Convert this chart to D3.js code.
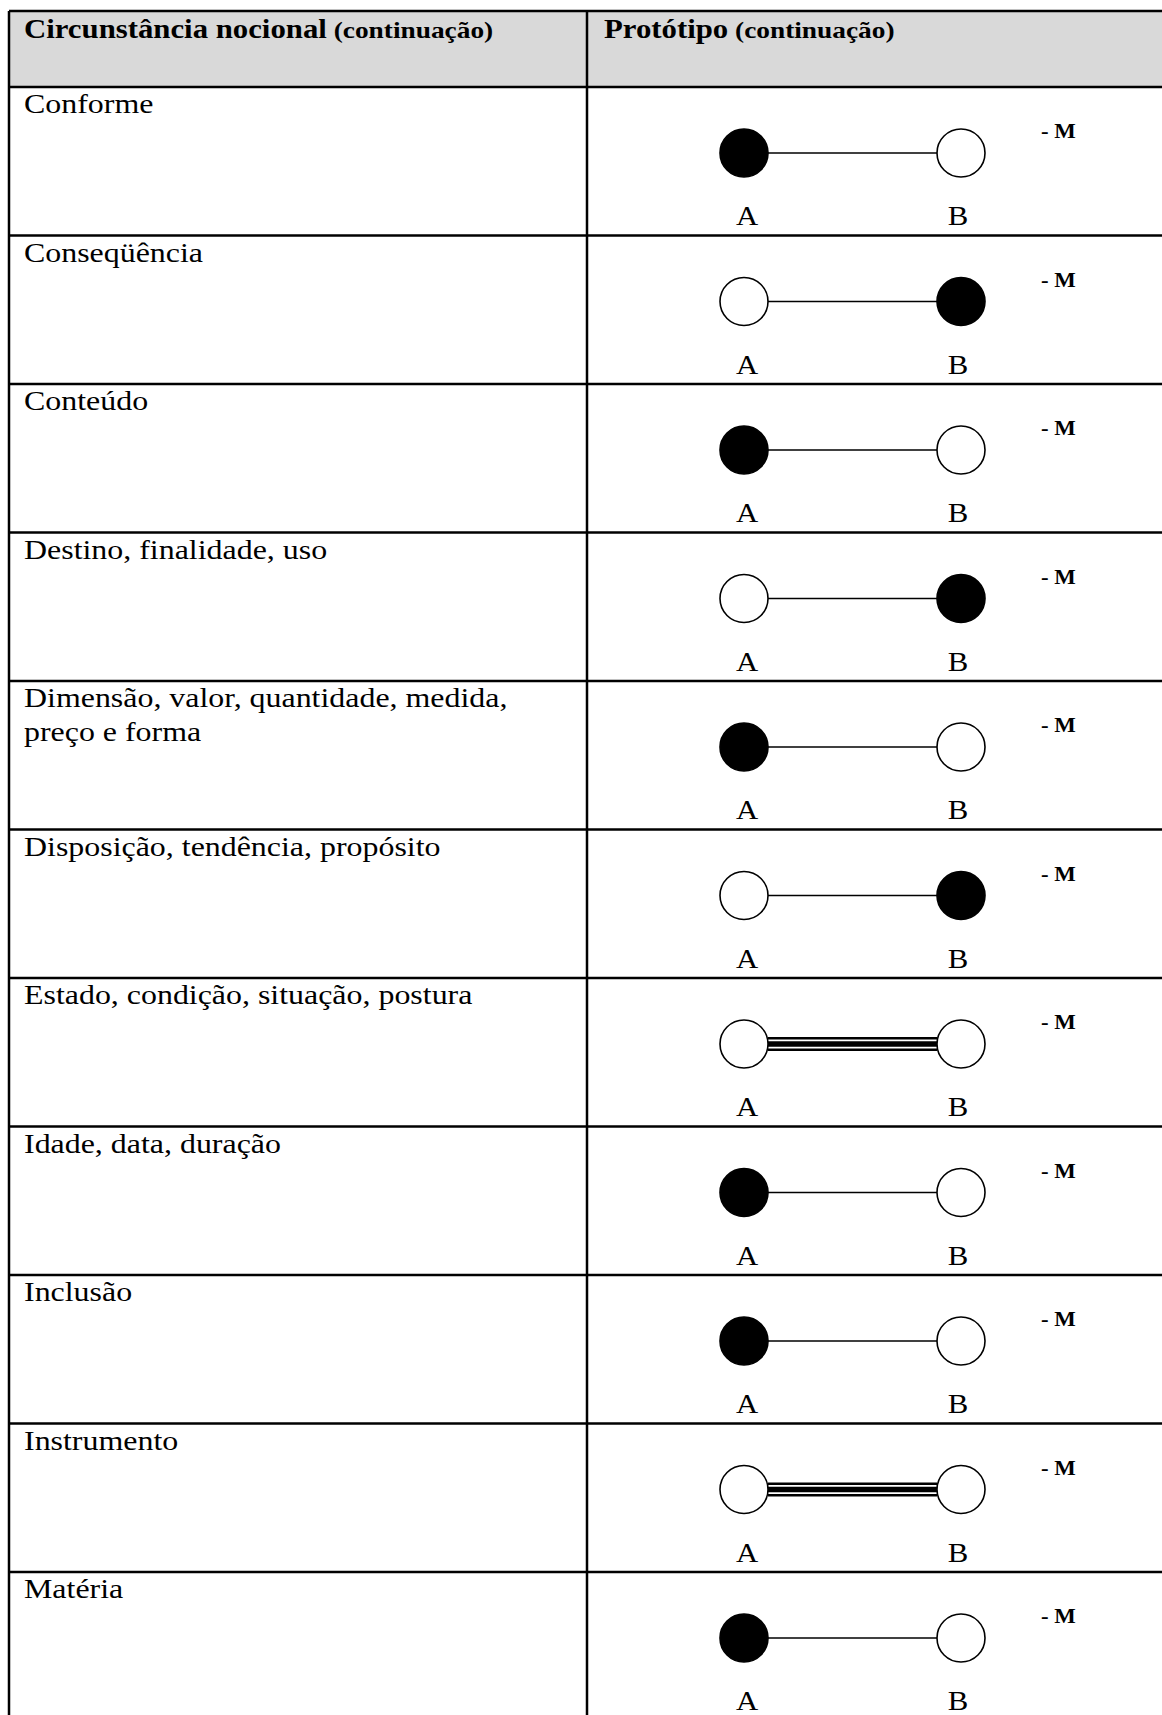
<!DOCTYPE html>
<html>
<head>
<meta charset="utf-8">
<script src="https://cdn.jsdelivr.net/npm/d3@7"></script>
<style>
  html, body { margin: 0; padding: 0; background: #fff; }
  svg { display: block; }
  text { font-family: "Liberation Serif", "Times New Roman", serif; fill: #000; }
</style>
</head>
<body>
<svg id="chart"></svg>
<script>
// table content
const headerLeft = ['Circunstância nocional', ' (continuação)']
const headerRight = ['Protótipo', ' (continuação)']
const categories = [
    ['Conforme'],
    ['Conseqüência'],
    ['Conteúdo'],
    ['Destino, finalidade, uso'],
    ['Dimensão, valor, quantidade, medida,', 'preço e forma'],
    ['Disposição, tendência, propósito'],
    ['Estado, condição, situação, postura'],
    ['Idade, data, duração'],
    ['Inclusão'],
    ['Instrumento'],
    ['Matéria']
]
// which node is filled (null = none)
const filledNode = ['A', 'B', 'A', 'B', 'A', 'B', null, 'A', 'A', null, 'A']
// link drawn between the nodes
const linkType = ['single', 'single', 'single', 'single', 'single', 'single',
                  'triple', 'single', 'single', 'triple', 'single']
const nodes = ['A', 'B']
const marker = '- M'

const W = 1162, H = 1715
const tableLeft = 9, divider = 587, tableTop = 11, headH = 76, rowH = 148.5
const R = 24
const stretch = 1.14  // the source font is set a bit wider than Times

const svg = d3.select('#chart').attr('width', W).attr('height', H)

const y = d3.scaleBand()
    .domain(d3.range(categories.length))
    .range([tableTop + headH, tableTop + headH + rowH * categories.length])
    .padding(0)

const x = d3.scalePoint().domain(nodes).range([744, 961])

// text placed at (tx, ty), widened horizontally
function wideText(sel, tx, ty) {
    return sel.append('text')
        .attr('transform', `translate(${tx},${ty}) scale(${stretch},1)`)
}

// header
svg.append('rect')
    .attr('x', tableLeft).attr('y', tableTop)
    .attr('width', W - tableLeft).attr('height', headH)
    .attr('fill', '#d9d9d9')

function headerText(parts, x0) {
    let t = wideText(svg, x0, tableTop + 27).attr('font-weight', 'bold')
    t.append('tspan').attr('font-size', 27).text(parts[0])
    t.append('tspan').attr('font-size', 24).text(parts[1])
}
headerText(headerLeft, 24)
headerText(headerRight, 604)

// rows
let rows = svg.append('g').selectAll('g')
    .data(categories.map((c, i) => ({ lines: c, filled: filledNode[i], link: linkType[i], i })))
    .join('g')
    .attr('transform', d => `translate(0,${y(d.i)})`)

wideText(rows, 24, 26)
    .attr('font-size', 28)
    .selectAll('tspan')
    .data(d => d.lines)
    .join('tspan')
    .attr('x', 0)
    .attr('dy', (d, j) => j ? 34 : 0)
    .text(d => d)

const cy = 66

// links
rows.each(function (d) {
    let g = d3.select(this)
    let x1 = x('A') + R, x2 = x('B') - R
    if (d.link === 'triple') {
        [[-5.8, 2.5], [0, 5.5], [5.8, 2.5]].forEach(([dy, w]) => {
            g.append('line')
                .attr('x1', x1).attr('x2', x2)
                .attr('y1', cy + dy).attr('y2', cy + dy)
                .attr('stroke', '#000').attr('stroke-width', w)
        })
    } else {
        g.append('line')
            .attr('x1', x1).attr('x2', x2)
            .attr('y1', cy).attr('y2', cy)
            .attr('stroke', '#000').attr('stroke-width', 1.6)
    }
})

// nodes
rows.selectAll('circle')
    .data(d => nodes.map(n => ({ n, filled: d.filled === n })))
    .join('circle')
    .attr('cx', d => x(d.n))
    .attr('cy', cy)
    .attr('r', R)
    .attr('fill', d => d.filled ? '#000' : '#fff')
    .attr('stroke', '#000')
    .attr('stroke-width', 1.6)

// node labels
rows.each(function () {
    let g = d3.select(this)
    nodes.forEach(n => {
        wideText(g, x(n) + (n === 'A' ? 3 : -3), 138)
            .attr('text-anchor', 'middle')
            .attr('font-size', 27)
            .text(n)
    })
})

wideText(rows, 1041, 51)
    .attr('font-size', 20)
    .attr('font-weight', 'bold')
    .text(marker)

// grid lines
let grid = svg.append('g').attr('stroke', '#000').attr('stroke-width', 2.5)
grid.append('line').attr('x1', tableLeft).attr('x2', W).attr('y1', tableTop).attr('y2', tableTop)
grid.selectAll('line.h')
    .data(d3.range(categories.length))
    .join('line')
    .attr('class', 'h')
    .attr('x1', tableLeft).attr('x2', W)
    .attr('y1', d => y(d)).attr('y2', d => y(d))
grid.append('line').attr('x1', tableLeft).attr('x2', tableLeft).attr('y1', tableTop).attr('y2', H)
grid.append('line').attr('x1', divider).attr('x2', divider).attr('y1', tableTop).attr('y2', H)
</script>
</body>
</html>
